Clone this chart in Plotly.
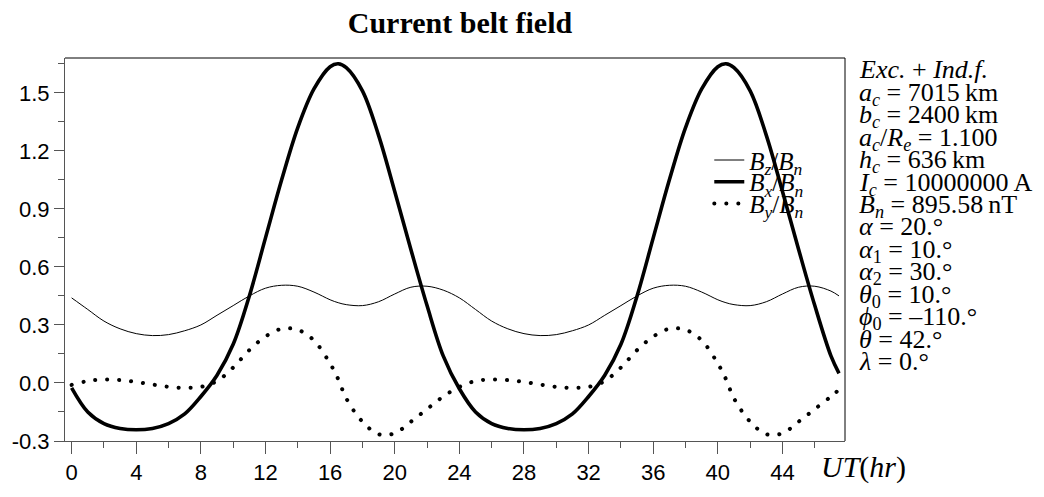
import plotly.graph_objects as go

# ---- data ----
ut_hr = [0, 1, 2, 3, 4, 5, 6, 7, 8, 9, 10, 11, 12, 13, 14, 15, 16, 16.5, 17, 18, 19, 20, 21, 22, 23,
         24, 25, 26, 27, 28, 29, 30, 31, 32, 33, 34, 35, 36, 37, 38, 39, 40, 40.5, 41, 42, 43, 44, 45, 46, 47, 47.5]

bz_bn = [0.44, 0.38, 0.32, 0.28, 0.255, 0.245, 0.25, 0.27, 0.30, 0.35, 0.40, 0.45, 0.49, 0.505, 0.50,
         0.47, 0.43, 0.415, 0.405, 0.40, 0.42, 0.46, 0.495, 0.50, 0.48,
         0.44, 0.38, 0.32, 0.28, 0.255, 0.245, 0.25, 0.27, 0.30, 0.35, 0.40, 0.45, 0.49, 0.505, 0.50,
         0.47, 0.43, 0.415, 0.405, 0.40, 0.42, 0.46, 0.495, 0.50, 0.475, 0.45]

bx_bn = [-0.025, -0.15, -0.21, -0.235, -0.242, -0.235, -0.21, -0.16, -0.07, 0.04, 0.20, 0.45, 0.75, 1.05,
         1.32, 1.52, 1.635, 1.65, 1.63, 1.51, 1.28, 0.99, 0.69, 0.40, 0.14,
         -0.03, -0.15, -0.21, -0.235, -0.242, -0.235, -0.21, -0.16, -0.07, 0.04, 0.20, 0.45, 0.75, 1.05,
         1.32, 1.52, 1.635, 1.65, 1.63, 1.51, 1.28, 0.99, 0.69, 0.40, 0.14, 0.05]

by_bn = [-0.01, 0.01, 0.018, 0.015, 0.005, -0.008, -0.02, -0.025, -0.02, 0.01, 0.08, 0.17, 0.24, 0.28,
         0.275, 0.22, 0.10, 0.02, -0.08, -0.20, -0.265, -0.26, -0.20, -0.135, -0.07,
         -0.02, 0.01, 0.018, 0.015, 0.005, -0.008, -0.02, -0.025, -0.02, 0.01, 0.08, 0.17, 0.24, 0.28,
         0.275, 0.22, 0.10, 0.02, -0.08, -0.20, -0.265, -0.26, -0.20, -0.135, -0.07, -0.035]

series_names = ["<i>B</i><sub><i>z</i></sub>/<i>B</i><sub><i>n</i></sub>",
                "<i>B</i><sub><i>x</i></sub>/<i>B</i><sub><i>n</i></sub>",
                "<i>B</i><sub><i>y</i></sub>/<i>B</i><sub><i>n</i></sub>"]

y_tick_vals = [-0.3, 0.0, 0.3, 0.6, 0.9, 1.2, 1.5]
y_tick_text = ["-0.3", "0.0", "0.3", "0.6", "0.9", "1.2", "1.5"]
x_tick_vals = [0, 4, 8, 12, 16, 20, 24, 28, 32, 36, 40, 44]

param_lines = [
    "<i>Exc.</i> + <i>Ind.f.</i>",
    "<i>a</i><sub><i>c</i></sub> = 7015\u2009km",
    "<i>b</i><sub><i>c</i></sub> = 2400\u2009km",
    "<i>a</i><sub><i>c</i></sub>/<i>R</i><sub><i>e</i></sub> = 1.100",
    "<i>h</i><sub><i>c</i></sub> = 636\u2009km",
    "<i>I</i><sub><i>c</i></sub> = 10000000\u2009A",
    "<i>B</i><sub><i>n</i></sub> = 895.58\u2009nT",
    "<i>\u03b1</i> = 20.\u00b0",
    "<i>\u03b1</i><sub>1</sub> = 10.\u00b0",
    "<i>\u03b1</i><sub>2</sub> = 30.\u00b0",
    "<i>\u03b8</i><sub>0</sub> = 10.\u00b0",
    "<i>\u03d5</i><sub>0</sub> = \u2013110.\u00b0",
    "<i>\u03b8</i> = 42.\u00b0",
    "<i>\u03bb</i> = 0.\u00b0",
]

SERIF = "Liberation Serif, Times New Roman, serif"
SANS = "Liberation Sans, Arial, sans-serif"
AX = "#555555"

plot_w, plot_h = 1044 - 63 - 199, 497 - 58 - 42

fig = go.Figure()
fig.add_trace(go.Scatter(x=ut_hr, y=bz_bn, mode="lines", name=series_names[0], legend="legend",
                         line=dict(color="black", width=1, shape="spline", smoothing=1.0)))
fig.add_trace(go.Scatter(x=ut_hr, y=bx_bn, mode="lines", name=series_names[1], legend="legend2",
                         line=dict(color="black", width=3.6, shape="spline", smoothing=1.0)))
fig.add_trace(go.Scatter(x=ut_hr, y=by_bn, mode="lines", name=series_names[2], legend="legend3",
                         line=dict(color="black", width=4, dash="4px,8px", shape="spline", smoothing=1.0)))

legend_rows_px = [164, 186.5, 209]
leg_common = dict(x=0.826, xanchor="left", yanchor="middle", bgcolor="rgba(0,0,0,0)",
                  font=dict(family=SERIF, size=25, color="black"))

fig.update_layout(
    width=1044, height=497,
    margin=dict(l=63, r=199, t=58, b=42),
    paper_bgcolor="white", plot_bgcolor="white",
    title=dict(text="Current belt field", x=0.4406, xanchor="center", y=0.955, yanchor="middle",
               font=dict(family=SERIF, size=30, color="black", weight="bold")),
    showlegend=True,
    legend=dict(y=(455 - legend_rows_px[0]) / plot_h, **leg_common),
    legend2=dict(y=(455 - legend_rows_px[1]) / plot_h, **leg_common),
    legend3=dict(y=(455 - legend_rows_px[2]) / plot_h, **leg_common),
    xaxis=dict(range=[-0.41, 47.87], showgrid=False, zeroline=False, showline=True, linecolor=AX,
               linewidth=1, ticks="outside", ticklen=12, tickcolor=AX, tickwidth=1,
               tickmode="array", tickvals=x_tick_vals,
               tickfont=dict(family=SANS, size=22, color="black"),
               minor=dict(tickmode="linear", tick0=2, dtick=4, ticks="outside", ticklen=6, tickcolor=AX)),
    yaxis=dict(range=[-0.3, 1.68], showgrid=False, zeroline=False, showline=True, linecolor=AX,
               linewidth=1, ticks="outside", ticklen=10, tickcolor=AX, tickwidth=1,
               tickmode="array", tickvals=y_tick_vals, ticktext=y_tick_text,
               tickfont=dict(family=SANS, size=22, color="black"),
               minor=dict(tickmode="linear", tick0=-0.15, dtick=0.3, ticks="outside", ticklen=6, tickcolor=AX)),
)

# top / right frame lines
fig.add_shape(type="line", xref="paper", yref="paper", x0=0, x1=1, y0=1, y1=1, line=dict(color="black", width=1))
fig.add_shape(type="line", xref="paper", yref="paper", x0=1, x1=1, y0=0, y1=1, line=dict(color="black", width=1))

# parameter text block on the right
x_txt = (858 - 63) / plot_w
for i, line in enumerate(param_lines):
    top_px = -4 + i * 23.3          # offset of the text top below the frame top
    fig.add_annotation(xref="paper", yref="paper", x=x_txt, y=1 - top_px / plot_h,
                       xanchor="left", yanchor="top", text=line, showarrow=False,
                       font=dict(family=SERIF, size=26, color="black"), borderpad=0)

# x-axis label
fig.add_annotation(xref="paper", yref="paper", x=(819 - 63) / plot_w, y=-(482 - 455) / plot_h,
                   xanchor="left", yanchor="middle", text="<i>UT</i>(<i>hr</i>)", showarrow=False,
                   font=dict(family=SERIF, size=30, color="black"))

post = """
document.querySelectorAll('path').forEach(function(p){
  var d = (p.style.strokeDasharray || '').replace(/\\s/g,'');
  if (d === '4px,8px') { p.style.strokeDasharray = '0.1px,11.9px'; p.style.strokeLinecap = 'round'; }
});
"""
fig.write_html("out.html", post_script=post)
